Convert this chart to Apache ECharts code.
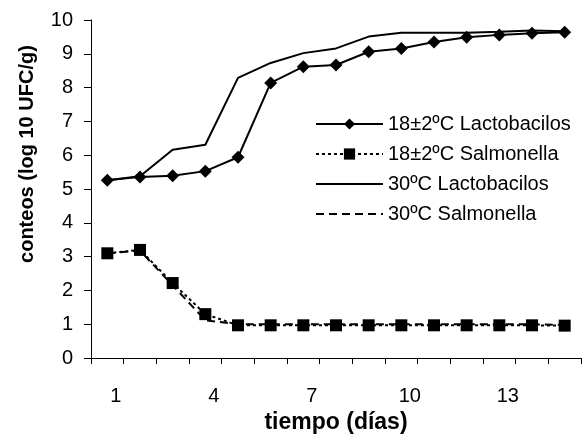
<!DOCTYPE html>
<html>
<head>
<meta charset="utf-8">
<script src="https://cdn.jsdelivr.net/npm/echarts@6/dist/echarts.min.js"></script>
<style>
html,body{margin:0;padding:0;background:#fff;}
#c{width:588px;height:439px;}
</style>
</head>
<body>
<div id="c"></div>
<script>
var categories = ['1','2','3','4','5','6','7','8','9','10','11','12','13','14','15'];
var lacto18 = [5.26, 5.36, 5.39, 5.53, 5.94, 8.14, 8.62, 8.67, 9.06, 9.16, 9.35, 9.49, 9.56, 9.61, 9.64];
var salmo18 = [3.10, 3.20, 2.22, 1.30, 0.97, 0.97, 0.97, 0.97, 0.97, 0.97, 0.97, 0.97, 0.97, 0.97, 0.96];
var lacto30 = [5.26, 5.38, 6.16, 6.31, 8.29, 8.73, 9.02, 9.16, 9.51, 9.62, 9.62, 9.62, 9.65, 9.69, 9.67];
var salmo30 = [3.10, 3.18, 2.15, 1.12, 1.00, 1.00, 1.00, 1.00, 1.00, 1.00, 1.00, 1.00, 1.00, 1.00, 0.98];
var seriesNames = ['18\u00b12\u00baC Lactobacilos', '18\u00b12\u00baC Salmonella', '30\u00baC Lactobacilos', '30\u00baC Salmonella'];
var xAxisTitle = 'tiempo (d\u00edas)';
var yAxisTitle = 'conteos (log 10 UFC/g)';

var FONT = 'Arial, "Liberation Sans", sans-serif';
var chart = echarts.init(document.getElementById('c'), null, {renderer: 'canvas'});
chart.setOption({
  animation: false,
  backgroundColor: '#ffffff',
  grid: {left: 91, right: 7, top: 20, bottom: 75, containLabel: false},
  legend: {
    orient: 'vertical',
    left: 315,
    top: 114,
    padding: 0,
    itemWidth: 67,
    itemHeight: 14,
    itemGap: 10,
    data: [
      {name: seriesNames[0]},
      {name: seriesNames[1]},
      {name: seriesNames[2], itemStyle: {opacity: 0}},
      {name: seriesNames[3], itemStyle: {opacity: 0}}
    ],
    textStyle: {fontFamily: FONT, fontSize: 20, color: '#000'}
  },
  xAxis: {
    type: 'category',
    data: categories,
    boundaryGap: true,
    name: xAxisTitle,
    nameLocation: 'middle',
    nameGap: 40,
    nameTextStyle: {fontFamily: FONT, fontSize: 23, fontWeight: 'bold', color: '#000'},
    axisLine: {lineStyle: {color: '#000', width: 1}},
    axisTick: {show: true, interval: 0, length: 6, alignWithLabel: false, lineStyle: {color: '#000'}},
    axisLabel: {interval: 2, fontFamily: FONT, fontSize: 20, color: '#000', margin: 28, padding: [0, 0, 0, 17]},
    splitLine: {show: false}
  },
  yAxis: {
    type: 'value',
    min: 0,
    max: 10,
    interval: 1,
    name: yAxisTitle,
    nameLocation: 'middle',
    nameRotate: 90,
    nameGap: 54,
    nameTextStyle: {fontFamily: FONT, fontSize: 20, fontWeight: 'bold', color: '#000', padding: [0, 0, 0, 70]},
    axisLine: {show: true, lineStyle: {color: '#000', width: 1}},
    axisTick: {show: true, length: 7, lineStyle: {color: '#000'}},
    axisLabel: {fontFamily: FONT, fontSize: 20, color: '#000', margin: 18},
    splitLine: {show: false}
  },
  series: [
    {
      name: seriesNames[0], type: 'line', data: lacto18,
      symbol: 'diamond', symbolSize: 13,
      lineStyle: {color: '#000', width: 2, type: 'solid'},
      itemStyle: {color: '#000'}
    },
    {
      name: seriesNames[1], type: 'line', data: salmo18,
      symbol: 'rect', symbolSize: 12,
      lineStyle: {color: '#000', width: 2, type: [3, 3]},
      itemStyle: {color: '#000'}
    },
    {
      name: seriesNames[2], type: 'line', data: lacto30,
      symbol: 'none',
      lineStyle: {color: '#000', width: 2, type: 'solid'},
      itemStyle: {color: '#000'}
    },
    {
      name: seriesNames[3], type: 'line', data: salmo30,
      symbol: 'none',
      lineStyle: {color: '#000', width: 2, type: [8, 5]},
      itemStyle: {color: '#000'}
    }
  ]
});
</script>
</body>
</html>
